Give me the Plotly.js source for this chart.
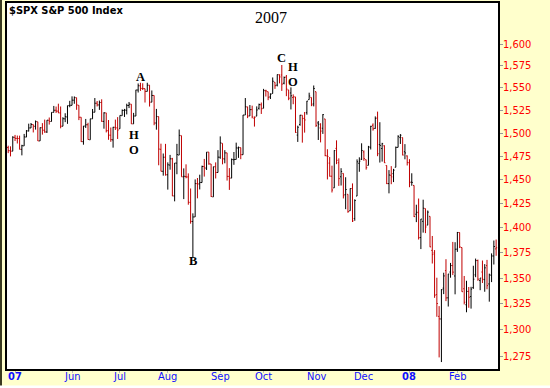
<!DOCTYPE html>
<html>
<head>
<meta charset="utf-8">
<script src="https://cdn.plot.ly/plotly-3.0.1.min.js"></script>
<style>html,body{margin:0;padding:0;background:#ffffcc;}#chart{width:550px;height:388px;}</style>
</head>
<body>
<div id="chart"></div>
<script>
// Trading days (first day only serves as previous-close reference for colouring)
const dates = [
"2007-04-20","2007-04-23","2007-04-24","2007-04-25","2007-04-26","2007-04-27","2007-04-30",
"2007-05-01","2007-05-02","2007-05-03","2007-05-04","2007-05-07","2007-05-08","2007-05-09","2007-05-10","2007-05-11","2007-05-14","2007-05-15","2007-05-16","2007-05-17","2007-05-18","2007-05-21","2007-05-22","2007-05-23","2007-05-24","2007-05-25","2007-05-29","2007-05-30","2007-05-31",
"2007-06-01","2007-06-04","2007-06-05","2007-06-06","2007-06-07","2007-06-08","2007-06-11","2007-06-12","2007-06-13","2007-06-14","2007-06-15","2007-06-18","2007-06-19","2007-06-20","2007-06-21","2007-06-22","2007-06-25","2007-06-26","2007-06-27","2007-06-28","2007-06-29",
"2007-07-02","2007-07-03","2007-07-05","2007-07-06","2007-07-09","2007-07-10","2007-07-11","2007-07-12","2007-07-13","2007-07-16","2007-07-17","2007-07-18","2007-07-19","2007-07-20","2007-07-23","2007-07-24","2007-07-25","2007-07-26","2007-07-27","2007-07-30","2007-07-31",
"2007-08-01","2007-08-02","2007-08-03","2007-08-06","2007-08-07","2007-08-08","2007-08-09","2007-08-10","2007-08-13","2007-08-14","2007-08-15","2007-08-16","2007-08-17","2007-08-20","2007-08-21","2007-08-22","2007-08-23","2007-08-24","2007-08-27","2007-08-28","2007-08-29","2007-08-30","2007-08-31",
"2007-09-04","2007-09-05","2007-09-06","2007-09-07","2007-09-10","2007-09-11","2007-09-12","2007-09-13","2007-09-14","2007-09-17","2007-09-18","2007-09-19","2007-09-20","2007-09-21","2007-09-24","2007-09-25","2007-09-26","2007-09-27","2007-09-28",
"2007-10-01","2007-10-02","2007-10-03","2007-10-04","2007-10-05","2007-10-08","2007-10-09","2007-10-10","2007-10-11","2007-10-12","2007-10-15","2007-10-16","2007-10-17","2007-10-18","2007-10-19","2007-10-22","2007-10-23","2007-10-24","2007-10-25","2007-10-26","2007-10-29","2007-10-30","2007-10-31",
"2007-11-01","2007-11-02","2007-11-05","2007-11-06","2007-11-07","2007-11-08","2007-11-09","2007-11-12","2007-11-13","2007-11-14","2007-11-15","2007-11-16","2007-11-19","2007-11-20","2007-11-21","2007-11-23","2007-11-26","2007-11-27","2007-11-28","2007-11-29","2007-11-30",
"2007-12-03","2007-12-04","2007-12-05","2007-12-06","2007-12-07","2007-12-10","2007-12-11","2007-12-12","2007-12-13","2007-12-14","2007-12-17","2007-12-18","2007-12-19","2007-12-20","2007-12-21","2007-12-24","2007-12-26","2007-12-27","2007-12-28","2007-12-31",
"2008-01-02","2008-01-03","2008-01-04","2008-01-07","2008-01-08","2008-01-09","2008-01-10","2008-01-11","2008-01-14","2008-01-15","2008-01-16","2008-01-17","2008-01-18","2008-01-22","2008-01-23","2008-01-24","2008-01-25","2008-01-28","2008-01-29","2008-01-30","2008-01-31",
"2008-02-01","2008-02-04","2008-02-05","2008-02-06","2008-02-07","2008-02-08","2008-02-11","2008-02-12","2008-02-13","2008-02-14","2008-02-15","2008-02-19","2008-02-20","2008-02-21","2008-02-22","2008-02-25","2008-02-26","2008-02-27"
];
const open = [
1470.7,1484.3,1480.9,1480.4,1495.4,1494.2,1494.1,
1482.4,1486.1,1495.6,1502.3,1505.6,1509.4,1507.3,1512.3,1491.5,1505.8,1503.1,1501.2,1514.0,1512.7,1522.8,1525.1,1524.1,1522.1,1507.5,1515.6,1517.6,1530.2,
1530.6,1536.3,1539.1,1530.6,1517.4,1490.7,1507.6,1509.1,1492.7,1515.6,1522.9,1532.9,1531.0,1533.7,1512.8,1522.2,1502.6,1497.7,1492.6,1506.3,1505.7,
1504.7,1519.1,1524.9,1524.9,1530.4,1531.9,1510.1,1518.7,1547.7,1552.5,1549.5,1549.2,1546.1,1553.2,1534.1,1541.6,1511.0,1518.1,1482.4,1458.9,1473.9,
1455.2,1465.5,1472.2,1433.0,1467.6,1476.2,1497.2,1453.1,1453.4,1452.9,1426.1,1406.6,1411.3,1445.9,1445.6,1447.0,1464.0,1462.3,1479.4,1466.7,1432.0,1463.7,1457.6,
1473.9,1488.8,1472.0,1478.6,1453.5,1451.7,1471.1,1471.5,1483.8,1484.2,1476.6,1519.8,1528.7,1518.8,1525.8,1516.3,1518.6,1527.3,1531.2,
1527.3,1546.9,1545.8,1539.9,1543.8,1556.5,1553.2,1564.9,1564.7,1555.4,1562.3,1547.8,1544.4,1539.3,1540.0,1497.8,1509.3,1519.6,1516.2,1522.4,1536.9,1539.4,1532.2,
1545.8,1511.1,1505.6,1505.3,1515.5,1475.3,1467.6,1453.7,1441.4,1483.4,1468.0,1453.1,1456.7,1434.5,1434.7,1417.6,1440.7,1409.6,1432.9,1467.4,1471.8,
1479.6,1471.3,1465.2,1484.6,1508.6,1505.1,1516.7,1487.6,1483.3,1486.2,1465.1,1445.9,1454.7,1456.4,1463.2,1484.5,1495.1,1495.1,1479.8,1475.3,
1468.0,1447.6,1444.0,1414.1,1415.7,1390.3,1406.8,1419.9,1402.9,1411.9,1377.4,1374.8,1333.9,1312.9,1310.4,1340.1,1357.3,1330.7,1355.9,1362.2,1352.0,
1378.6,1395.4,1380.3,1339.5,1324.0,1336.9,1331.9,1340.6,1353.1,1367.3,1347.5,1355.9,1348.4,1362.2,1344.2,1352.7,1371.8,1378.9
];
const high = [
1484.7,1486.3,1485.6,1496.6,1498.0,1497.3,1497.2,
1487.3,1499.1,1503.3,1510.3,1511.0,1509.4,1513.8,1512.3,1506.2,1510.9,1514.8,1514.2,1517.1,1522.8,1529.9,1529.2,1532.4,1529.3,1517.4,1521.8,1530.2,1535.6,
1540.6,1540.5,1539.1,1530.6,1517.4,1507.8,1515.5,1511.3,1515.7,1526.5,1538.7,1535.4,1535.9,1537.3,1522.9,1522.2,1514.3,1506.1,1506.8,1514.8,1517.5,
1519.4,1526.0,1526.6,1532.4,1534.3,1531.9,1522.2,1547.9,1555.1,1555.9,1555.3,1549.2,1555.9,1553.2,1547.2,1541.6,1526.6,1518.1,1488.5,1477.9,1488.3,
1468.4,1476.4,1473.2,1467.7,1488.3,1503.9,1497.2,1462.0,1466.3,1456.7,1440.8,1415.0,1450.3,1451.8,1455.3,1464.9,1472.1,1479.4,1479.4,1466.7,1463.8,1468.4,1481.5,
1496.4,1488.8,1481.5,1478.6,1462.3,1472.5,1479.5,1489.6,1485.4,1484.2,1519.9,1538.7,1529.1,1530.9,1530.2,1518.3,1529.4,1532.5,1533.7,
1549.0,1548.0,1545.8,1544.0,1561.9,1556.5,1565.3,1565.4,1576.1,1563.0,1564.7,1547.8,1550.7,1542.8,1540.0,1508.1,1520.0,1519.6,1523.2,1535.5,1544.7,1539.4,1552.8,
1545.8,1513.2,1510.8,1520.8,1515.5,1482.5,1474.1,1464.9,1481.4,1492.1,1472.7,1462.2,1456.7,1452.6,1434.7,1440.9,1446.1,1429.5,1471.6,1473.8,1488.9,
1481.2,1471.3,1486.1,1508.0,1510.6,1518.3,1523.6,1511.9,1489.4,1486.7,1465.1,1460.2,1464.4,1461.5,1485.4,1497.6,1498.9,1495.1,1488.0,1475.8,
1471.8,1456.8,1444.0,1423.9,1430.3,1409.2,1429.1,1419.9,1417.9,1411.9,1391.9,1377.7,1350.3,1322.7,1339.1,1355.2,1368.6,1354.0,1364.9,1385.9,1385.6,
1396.0,1395.4,1380.3,1352.0,1347.3,1341.2,1341.4,1362.1,1369.2,1368.2,1350.0,1367.3,1363.7,1367.9,1354.3,1374.4,1387.3,1388.3
];
const low = [
1470.7,1478.3,1474.8,1480.4,1491.4,1488.7,1482.3,
1475.9,1486.1,1495.6,1501.8,1505.5,1500.7,1503.8,1491.4,1491.5,1498.3,1500.4,1500.2,1509.3,1512.7,1522.7,1522.1,1521.9,1505.2,1507.5,1512.0,1510.1,1528.4,
1530.6,1532.3,1525.6,1514.2,1490.4,1487.4,1505.6,1492.9,1492.7,1515.6,1522.9,1529.3,1525.5,1512.4,1504.8,1500.7,1492.7,1490.5,1484.2,1503.4,1493.6,
1504.7,1519.1,1517.7,1520.5,1527.5,1510.0,1510.1,1518.7,1544.9,1546.7,1547.7,1533.7,1546.1,1529.2,1534.1,1508.6,1503.7,1465.3,1458.9,1454.3,1454.3,
1439.6,1460.6,1432.8,1427.4,1455.8,1476.2,1453.1,1429.7,1451.5,1423.9,1404.4,1370.6,1411.3,1430.5,1439.8,1447.0,1453.3,1460.3,1465.9,1432.0,1432.0,1451.3,1457.6,
1472.2,1466.3,1467.4,1449.1,1439.3,1451.7,1465.8,1471.5,1473.2,1471.8,1476.6,1519.8,1516.4,1518.8,1516.2,1507.1,1518.6,1525.8,1521.0,
1527.3,1540.4,1536.3,1537.6,1543.8,1549.0,1551.8,1555.2,1546.7,1554.1,1540.8,1536.3,1526.0,1531.8,1500.3,1490.4,1508.0,1489.6,1500.5,1520.2,1536.9,1529.6,1529.4,
1506.7,1492.5,1489.9,1499.1,1475.0,1450.3,1453.3,1436.6,1441.4,1466.5,1443.5,1443.9,1430.4,1419.3,1415.6,1417.6,1406.1,1407.4,1432.9,1458.4,1470.9,
1470.1,1460.7,1465.2,1482.2,1502.7,1504.7,1475.0,1468.2,1469.2,1467.8,1445.4,1435.7,1445.3,1447.5,1463.2,1484.5,1488.2,1475.9,1471.7,1465.1,
1442.1,1443.7,1411.2,1406.0,1388.3,1378.7,1395.3,1394.8,1402.9,1380.6,1364.3,1330.7,1312.5,1274.3,1270.0,1334.3,1327.5,1322.3,1350.3,1352.9,1334.1,
1375.9,1379.7,1336.6,1324.3,1316.8,1321.1,1320.3,1339.4,1350.8,1347.3,1338.1,1345.1,1336.6,1339.0,1327.0,1346.0,1363.3,1372.0
];
const close = [
1484.35,1480.93,1480.41,1495.42,1494.25,1494.07,1482.37,
1486.30,1495.92,1502.39,1505.62,1509.48,1507.72,1512.58,1491.47,1505.85,1503.15,1501.19,1514.14,1512.75,1522.75,1525.10,1524.12,1522.28,1507.51,1515.73,1518.11,1530.23,1530.62,
1536.34,1539.18,1530.95,1517.38,1490.72,1507.67,1509.12,1493.00,1515.67,1522.97,1532.91,1531.05,1533.70,1512.84,1522.19,1502.56,1497.74,1492.89,1506.34,1505.71,1503.35,
1519.43,1524.87,1525.40,1530.44,1531.85,1510.12,1518.76,1547.70,1552.50,1549.52,1549.37,1546.17,1553.08,1534.10,1541.57,1511.04,1518.09,1482.66,1458.95,1473.91,1455.27,
1465.81,1472.20,1433.06,1467.67,1476.71,1497.49,1453.09,1453.64,1452.92,1426.54,1406.70,1411.27,1445.94,1445.55,1447.12,1464.07,1462.50,1479.37,1466.79,1432.36,1463.76,1457.64,1473.99,
1489.42,1472.29,1478.55,1453.55,1451.70,1471.49,1471.56,1483.95,1484.25,1476.65,1519.78,1529.03,1518.75,1525.75,1517.73,1517.21,1525.42,1531.38,1526.75,
1547.04,1546.63,1539.59,1542.84,1557.59,1552.58,1565.15,1562.47,1554.41,1561.80,1548.71,1538.53,1541.24,1540.08,1500.63,1506.33,1519.59,1515.88,1514.40,1535.28,1540.98,1531.02,1549.38,
1508.44,1509.65,1502.17,1520.27,1475.62,1474.77,1453.70,1439.18,1481.05,1470.58,1451.15,1458.74,1433.27,1439.70,1416.77,1440.70,1407.22,1428.23,1469.02,1469.72,1481.14,
1472.42,1462.79,1485.01,1507.34,1504.66,1515.96,1477.65,1486.59,1488.41,1467.95,1445.90,1454.98,1453.00,1460.12,1484.46,1496.45,1497.66,1476.27,1478.49,1468.36,
1447.16,1447.16,1411.63,1416.18,1390.19,1409.13,1420.33,1401.02,1416.25,1380.95,1373.20,1333.25,1325.19,1310.50,1338.60,1352.07,1330.61,1353.96,1362.30,1355.81,1378.55,
1395.42,1380.82,1336.64,1326.45,1336.91,1331.29,1339.13,1348.86,1367.21,1348.86,1349.99,1348.78,1360.03,1342.53,1353.11,1371.80,1381.29,1380.02
];

// Axis ticks
const xTickDates  = ["2007-04-26","2007-06-01","2007-07-02","2007-08-01","2007-09-04","2007-10-01","2007-11-01","2007-12-03","2008-01-02","2008-02-01"];
const xTickLabels = ["<b>07</b>","Jun","Jul","Aug","Sep","Oct","Nov","Dec","<b>08</b>","Feb"];
const yTicks = [1275,1300,1325,1350,1375,1400,1425,1450,1475,1500,1525,1550,1575,1600];

// Chart pattern letters: [text, date, price]
const marks = [
  ["A","2007-07-16",1562.4],
  ["H","2007-07-11",1497.9],
  ["O","2007-07-11",1481.7],
  ["B","2007-08-16",1366.5],
  ["C","2007-10-11",1583.6],
  ["H","2007-10-18",1574.2],
  ["O","2007-10-18",1557.1]
];

const chartTitle = "$SPX S&P 500 Index";
const yearLabel = "2007";

// split bars by close vs previous close
function makeSet(){return {x:[],open:[],high:[],low:[],close:[]};}
const up = makeSet(), dn = makeSet();
for (let i = 0; i < dates.length; i++) {
  const prev = i > 0 ? close[i-1] : open[i];
  const s = close[i] >= prev ? up : dn;
  s.x.push(dates[i]); s.open.push(open[i]); s.high.push(high[i]); s.low.push(low[i]); s.close.push(close[i]);
}
function trace(s, color){
  return {type:'ohlc', x:s.x, open:s.open, high:s.high, low:s.low, close:s.close,
    increasing:{line:{color:color,width:1}}, decreasing:{line:{color:color,width:1}},
    tickwidth:0.45, hoverinfo:'skip', showlegend:false};
}

const FONT = "DejaVu Sans Condensed, Liberation Sans, sans-serif";
const SERIF = "Liberation Serif, Times New Roman, serif";
const fmt = v => String(v).replace(/\B(?=(\d{3})+(?!\d))/g, ",");

const annotations = marks.map(m => ({
  text:m[0], x:m[1], y:Math.log10(m[2]), xref:'x', yref:'y', showarrow:false,
  font:{family:SERIF, size:12.5, color:'#000', weight:'bold'}, xanchor:'center', yanchor:'middle'
}));
// x tick labels
xTickDates.forEach((d, k) => annotations.push({
  text:xTickLabels[k], x:d, xref:'x', yref:'paper', y:-7.5/366, xanchor:'center', yanchor:'middle',
  showarrow:false, font:{family:FONT, size:11, color:'#1010ff'}
}));
// y tick labels
yTicks.forEach(v => annotations.push({
  text:fmt(v), x:1 + 3/491, y:Math.log10(v), xref:'paper', yref:'y', xanchor:'left', yanchor:'middle',
  showarrow:false, font:{family:FONT, size:11, color:'#ff0000'}
}));
annotations.push({text:chartTitle, xref:'paper', yref:'paper', x:0, y:1+1.5/366, xanchor:'left', yanchor:'top',
  showarrow:false, font:{family:FONT, size:11, color:'#000', weight:'bold'}});
annotations.push({text:yearLabel, xref:'paper', yref:'paper', x:(271-7)/491, y:1-4/366, xanchor:'center', yanchor:'top',
  showarrow:false, font:{family:SERIF, size:16, color:'#000'}});

const layout = {
  width:550, height:388,
  margin:{l:7, r:52, t:3, b:19, pad:0},
  paper_bgcolor:'#ffffcc', plot_bgcolor:'#ffffff',
  showlegend:false,
  xaxis:{type:'category', categoryorder:'array', categoryarray:dates,
    range:[0.474, 215.82], rangeslider:{visible:false}, fixedrange:true,
    tickmode:'array', tickvals:xTickDates, showticklabels:false,
    ticks:'outside', ticklen:2, tickcolor:'#bbbbbb',
    showline:true, linecolor:'#000', linewidth:2, mirror:true, showgrid:false, zeroline:false},
  yaxis:{type:'log', side:'right', range:[3.10161, 3.21716], fixedrange:true,
    tickmode:'array', tickvals:yTicks, showticklabels:false,
    ticks:'outside', ticklen:3, tickcolor:'#999999',
    showline:true, linecolor:'#000', linewidth:2, mirror:true, showgrid:false, zeroline:false},
  annotations:annotations,
  shapes:[
    {type:'rect', xref:'paper', yref:'paper', x0:-7/491, x1:-5/491, y0:-17/366, y1:1+3/366, line:{width:0}, fillcolor:'#3a3a20'},
    {type:'rect', xref:'paper', yref:'paper', x0:-7/491, x1:1+52/491, y0:-19/366, y1:-16.5/366, line:{width:0}, fillcolor:'#ffffff'}
  ]
};

Plotly.newPlot('chart', [trace(up,'#000000'), trace(dn,'#c00000')], layout, {displayModeBar:false, staticPlot:true});
</script>
</body>
</html>
